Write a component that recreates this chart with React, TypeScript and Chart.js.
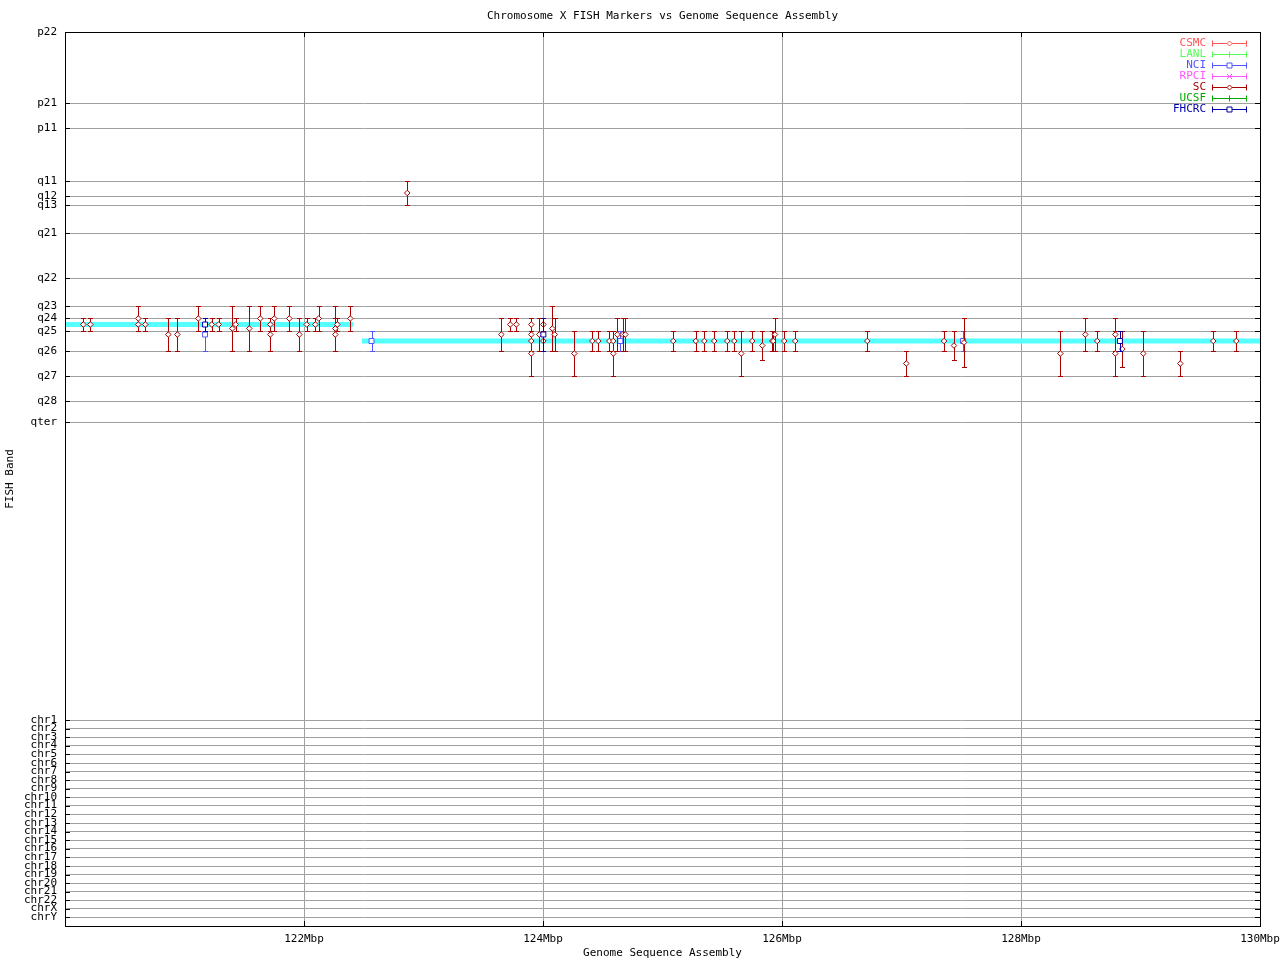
import React, { useEffect, useRef } from 'react';
import { Chart, registerables } from 'chart.js';

Chart.register(...registerables);

// ---- Axis tick definitions ----
const BAND_LABELS = ['p22', 'p21', 'p11', 'q11', 'q12', 'q13', 'q21', 'q22', 'q23', 'q24', 'q25', 'q26', 'q27', 'q28', 'qter'];
const BAND_VALUES = [0, 71, 96, 149, 164, 173, 201, 246, 274, 286, 299, 319, 344, 369, 390];
const CHR_LABELS = ['chr1', 'chr2', 'chr3', 'chr4', 'chr5', 'chr6', 'chr7', 'chr8', 'chr9', 'chr10', 'chr11', 'chr12', 'chr13', 'chr14', 'chr15', 'chr16', 'chr17', 'chr18', 'chr19', 'chr20', 'chr21', 'chr22', 'chrX', 'chrY'];
const CHR_VALUES = [688, 696.5, 705, 713.5, 722, 731, 739.5, 748, 756.5, 765, 773.5, 782, 791, 799.5, 808, 816.5, 825, 834, 842.5, 851, 859.5, 868, 876.5, 885];
const Y_MIN = 0;
const Y_MAX = 894;

const X_TICKS = [120, 122, 124, 126, 128, 130];
const X_TICK_LABELS = ['', '122Mbp', '124Mbp', '126Mbp', '128Mbp', '130Mbp'];
const X_MIN = 120;
const X_MAX = 130;

// ---- Legend / series ----
const LAB_NAMES = ['CSMC', 'LANL', 'NCI', 'RPCI', 'SC', 'UCSF', 'FHCRC'];
const LAB_COLORS = ['#ff5555', '#55ff55', '#5555ff', '#ff55ff', '#aa0000', '#00aa00', '#0000aa'];
const LAB_POINTS = ['diamond', 'plus', 'square', 'cross', 'diamond', 'plus', 'square'];

// SC markers (Mbp, band position, band range)
const SC_X = [120.153, 120.212, 120.613, 120.613, 120.672, 120.864, 120.940, 121.115, 121.228, 121.286, 121.400, 121.428, 121.542, 121.634, 121.718, 121.718, 121.751, 121.877, 121.961, 122.023, 122.095, 122.123, 122.262, 122.262, 122.279, 122.387, 122.864, 123.651, 123.726, 123.777, 123.902, 123.902, 123.902, 123.902, 123.969, 124.003, 124.003, 124.078, 124.098, 124.262, 124.413, 124.463, 124.555, 124.588, 124.588, 124.622, 124.667, 124.689, 125.090, 125.278, 125.350, 125.433, 125.542, 125.601, 125.659, 125.751, 125.835, 125.919, 125.927, 125.941, 126.019, 126.111, 126.714, 127.040, 127.356, 127.439, 127.523, 128.329, 128.538, 128.638, 128.789, 128.789, 128.848, 129.023, 129.333, 129.609, 129.802];
const SC_Y = [292.5, 292.5, 286.5, 292.5, 292.5, 302.5, 302.5, 286.5, 292.5, 292.5, 296.5, 292.5, 296.5, 286.5, 292.5, 302.5, 286.5, 286.5, 302.5, 292.5, 292.5, 286.5, 296.5, 302.5, 292.5, 286.5, 161, 302.5, 292.5, 292.5, 292.5, 302.5, 309, 321.5, 302.5, 292.5, 309, 296.5, 302.5, 321.5, 309, 309, 309, 309, 321.5, 302.5, 302.5, 302.5, 309, 309, 309, 309, 309, 309, 321.5, 309, 313.5, 309, 309, 302.5, 309, 309, 309, 331.5, 309, 313.5, 310.5, 321.5, 302.5, 309, 302.5, 321.5, 317, 321.5, 331.5, 309, 309];
const SC_LO = [286, 286, 274, 286, 286, 286, 286, 274, 286, 286, 274, 286, 274, 274, 286, 286, 274, 274, 286, 286, 286, 274, 274, 286, 286, 274, 149, 286, 286, 286, 286, 286, 299, 299, 286, 286, 299, 274, 286, 299, 299, 299, 299, 299, 299, 286, 286, 286, 299, 299, 299, 299, 299, 299, 299, 299, 299, 299, 299, 286, 299, 299, 299, 319, 299, 299, 286, 299, 286, 299, 286, 299, 299, 299, 319, 299, 299];
const SC_HI = [299, 299, 299, 299, 299, 319, 319, 299, 299, 299, 319, 299, 319, 299, 299, 319, 299, 299, 319, 299, 299, 299, 319, 319, 299, 299, 173, 319, 299, 299, 299, 319, 319, 344, 319, 299, 319, 319, 319, 344, 319, 319, 319, 319, 344, 319, 319, 319, 319, 319, 319, 319, 319, 319, 344, 319, 328, 319, 319, 319, 319, 319, 319, 344, 319, 328, 335, 344, 319, 319, 319, 344, 335, 344, 344, 319, 319];

const NCI_X = [121.172, 122.565, 124.647, 127.515];
const NCI_Y = [302.5, 309, 309, 309];
const NCI_LO = [286, 299, 299, 299];
const NCI_HI = [319, 319, 319, 319];

const FHCRC_X = [121.172, 124.003, 128.828];
const FHCRC_Y = [292.5, 302.5, 309];
const FHCRC_LO = [286, 286, 299];
const FHCRC_HI = [299, 319, 319];

// Genome sequence assembly track
const ASM1_X = [120, 122.41];
const ASM1_Y = [292.5, 292.5];
const ASM2_X = [122.485, 130];
const ASM2_Y = [309, 309];

const FONT = 'DejaVu Sans Mono';
const GRID = '#a0a0a0';

const LAB_DATA: Record<string, { x: number[]; y: number[]; lo: number[]; hi: number[] }> = {
  NCI: { x: NCI_X, y: NCI_Y, lo: NCI_LO, hi: NCI_HI },
  SC: { x: SC_X, y: SC_Y, lo: SC_LO, hi: SC_HI },
  FHCRC: { x: FHCRC_X, y: FHCRC_Y, lo: FHCRC_LO, hi: FHCRC_HI },
};

const STYLE_MAP: Record<string, string> = { diamond: 'rectRot', square: 'rect', plus: 'cross', cross: 'crossRot' };
const RADIUS_MAP: Record<string, number> = { diamond: 2.8, square: 3.5, plus: 3, cross: 3 };

function drawMarker(ctx: CanvasRenderingContext2D, kind: string, x: number, y: number) {
  ctx.beginPath();
  if (kind === 'diamond') {
    ctx.moveTo(x - 2.5, y); ctx.lineTo(x, y - 2.5); ctx.lineTo(x + 2.5, y); ctx.lineTo(x, y + 2.5); ctx.closePath();
    ctx.fillStyle = '#fff'; ctx.fill();
  } else if (kind === 'square') {
    ctx.rect(x - 2.5, y - 2.5, 5, 5);
    ctx.fillStyle = '#fff'; ctx.fill();
  } else if (kind === 'plus') {
    ctx.moveTo(x, y - 3); ctx.lineTo(x, y + 3); ctx.moveTo(x - 3, y); ctx.lineTo(x + 3, y);
  } else if (kind === 'cross') {
    ctx.moveTo(x - 2.5, y - 2.5); ctx.lineTo(x + 2.5, y + 2.5); ctx.moveTo(x + 2.5, y - 2.5); ctx.lineTo(x - 2.5, y + 2.5);
  }
  ctx.stroke();
}

const gnuplotLook = {
  id: 'gnuplotLook',
  beforeDatasetDraw(chart: any, args: any) {
    const ds = chart.data.datasets[args.index];
    if (!ds.errLo) return;
    const ctx: CanvasRenderingContext2D = chart.ctx;
    const ys = chart.scales.y;
    ctx.save();
    ctx.strokeStyle = ds.borderColor;
    ctx.lineWidth = 1;
    args.meta.data.forEach((el: any, j: number) => {
      const x = Math.round(el.x) + 0.5;
      const y1 = Math.round(ys.getPixelForValue(ds.errLo[j])) + 0.5;
      const y2 = Math.round(ys.getPixelForValue(ds.errHi[j])) + 0.5;
      ctx.beginPath();
      ctx.moveTo(x, y1); ctx.lineTo(x, y2);
      ctx.moveTo(x - 2.5, y1); ctx.lineTo(x + 2.5, y1);
      ctx.moveTo(x - 2.5, y2); ctx.lineTo(x + 2.5, y2);
      ctx.stroke();
    });
    ctx.restore();
  },
  afterDraw(chart: any) {
    const ctx: CanvasRenderingContext2D = chart.ctx;
    const { left, right, top, bottom } = chart.chartArea;
    const xs = chart.scales.x;
    const ys = chart.scales.y;
    ctx.save();
    // frame
    ctx.strokeStyle = '#000';
    ctx.lineWidth = 1;
    ctx.strokeRect(Math.round(left) + 0.5, Math.round(top) + 0.5, Math.round(right - left), Math.round(bottom - top));
    // inward ticks
    ctx.beginPath();
    [...BAND_VALUES, ...CHR_VALUES].forEach((v) => {
      const py = Math.round(ys.getPixelForValue(v)) + 0.5;
      ctx.moveTo(left, py); ctx.lineTo(left + 5, py);
      ctx.moveTo(right - 5, py); ctx.lineTo(right, py);
    });
    X_TICKS.forEach((v) => {
      const px = Math.round(xs.getPixelForValue(v)) + 0.5;
      ctx.moveTo(px, bottom); ctx.lineTo(px, bottom - 5);
      ctx.moveTo(px, top); ctx.lineTo(px, top + 5);
    });
    ctx.stroke();

    // titles
    ctx.fillStyle = '#000';
    ctx.font = `11px "${FONT}"`;
    ctx.textAlign = 'center';
    ctx.textBaseline = 'middle';
    const cx = (left + right) / 2;
    ctx.fillText('Chromosome X FISH Markers vs Genome Sequence Assembly', cx, 16);
    ctx.fillText('Genome Sequence Assembly', cx, 953);
    ctx.save();
    ctx.translate(10, 479);
    ctx.rotate(-Math.PI / 2);
    ctx.fillText('FISH Band', 0, 0);
    ctx.restore();

    // legend
    LAB_NAMES.forEach((name, i) => {
      const y = Math.round(top + 10.5 + 11 * i) + 0.5;
      const color = LAB_COLORS[i];
      ctx.fillStyle = color;
      ctx.textAlign = 'right';
      ctx.fillText(name, right - 54, y);
      ctx.strokeStyle = color;
      ctx.beginPath();
      const x1 = right - 47.5, x2 = right - 13.5;
      ctx.moveTo(x1, y); ctx.lineTo(x2, y);
      ctx.moveTo(x1, y - 3); ctx.lineTo(x1, y + 3);
      ctx.moveTo(x2, y - 3); ctx.lineTo(x2, y + 3);
      ctx.stroke();
      drawMarker(ctx, LAB_POINTS[i], right - 30.5, y);
    });
    ctx.restore();
  },
};

export default function App() {
  const ref = useRef<HTMLCanvasElement>(null);

  useEffect(() => {
    if (!ref.current) return;
    const datasets: any[] = [
      {
        type: 'line',
        label: 'assembly1',
        data: ASM1_X.map((x, i) => ({ x, y: ASM1_Y[i] })),
        borderColor: '#55ffff',
        borderWidth: 5,
        pointRadius: 0,
        showLine: true,
        order: 100,
      },
      {
        type: 'line',
        label: 'assembly2',
        data: ASM2_X.map((x, i) => ({ x, y: ASM2_Y[i] })),
        borderColor: '#55ffff',
        borderWidth: 5,
        pointRadius: 0,
        showLine: true,
        order: 100,
      },
    ];
    LAB_NAMES.forEach((name, i) => {
      const d = LAB_DATA[name];
      const kind = LAB_POINTS[i];
      datasets.push({
        type: 'scatter',
        label: name,
        data: d ? d.x.map((x, j) => ({ x, y: d.y[j] })) : [],
        errLo: d ? d.lo : [],
        errHi: d ? d.hi : [],
        borderColor: LAB_COLORS[i],
        backgroundColor: '#ffffff',
        pointStyle: STYLE_MAP[kind],
        pointRadius: RADIUS_MAP[kind],
        pointBorderWidth: 1,
        showLine: false,
        order: 10 - i,
      });
    });

    const chart = new Chart(ref.current, {
      type: 'scatter',
      data: { datasets },
      plugins: [gnuplotLook],
      options: {
        animation: false,
        responsive: false,
        events: [],
        layout: { padding: { top: 32, right: 20, left: 0, bottom: 0 } },
        plugins: { legend: { display: false }, tooltip: { enabled: false }, title: { display: false } },
        scales: {
          x: {
            type: 'linear',
            min: X_MIN,
            max: X_MAX,
            afterBuildTicks: (s: any) => { s.ticks = X_TICKS.map((v) => ({ value: v })); },
            afterFit: (s: any) => { s.height = 34; s.paddingLeft = 0; s.paddingRight = 0; },
            ticks: {
              autoSkip: false,
              maxRotation: 0,
              padding: 7,
              color: '#000',
              font: { family: FONT, size: 11 },
              callback: (v: any) => X_TICK_LABELS[X_TICKS.indexOf(Number(v))] ?? '',
            },
            grid: { color: GRID, lineWidth: 1, drawTicks: false },
            border: { color: '#000', width: 1 },
          },
          y: {
            type: 'linear',
            reverse: true,
            min: Y_MIN,
            max: Y_MAX,
            afterBuildTicks: (s: any) => { s.ticks = [...BAND_VALUES, ...CHR_VALUES].map((v) => ({ value: v })); },
            afterFit: (s: any) => { s.width = 65; s.paddingTop = 0; s.paddingBottom = 0; },
            ticks: {
              autoSkip: false,
              padding: 8,
              color: '#000',
              font: { family: FONT, size: 11 },
              callback: (v: any) => {
                const all = [...BAND_VALUES, ...CHR_VALUES];
                const labels = [...BAND_LABELS, ...CHR_LABELS];
                return labels[all.indexOf(Number(v))] ?? '';
              },
            },
            grid: { color: GRID, lineWidth: 1, drawTicks: false },
            border: { color: '#000', width: 1 },
          },
        },
      } as any,
    });
    return () => chart.destroy();
  }, []);

  return (
    <div style={{ position: 'fixed', left: 0, top: 0, width: 1280, height: 960, background: '#fff' }}>
      <canvas ref={ref} width={1280} height={960} style={{ display: 'block' }} />
    </div>
  );
}
